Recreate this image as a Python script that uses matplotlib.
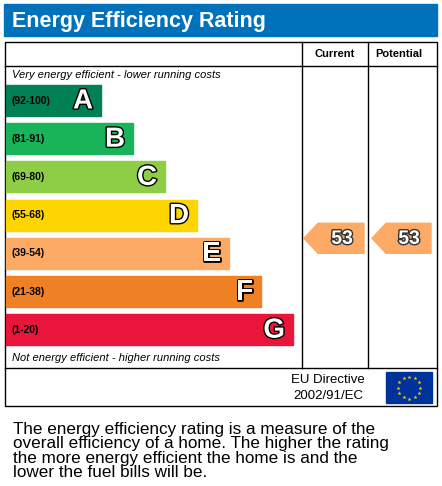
import matplotlib.pyplot as plt
import matplotlib.patheffects as pe
from matplotlib.patches import Rectangle, Polygon
import numpy as np

letters = ['A', 'B', 'C', 'D', 'E', 'F', 'G']
ranges = ['(92-100)', '(81-91)', '(69-80)', '(55-68)', '(39-54)', '(21-38)', '(1-20)']
colors = ['#008054', '#19b459', '#8dce46', '#ffd500', '#fcaa65', '#ef8023', '#e9153b']
current = 53
potential = 53
current_band = 'E'
potential_band = 'E'

plt.rcParams['font.family'] = 'Liberation Sans'
fig = plt.figure(figsize=(4.42, 4.86), dpi=100)
ax = fig.add_axes([0, 0, 1, 1])
ax.set_xlim(0, 442)
ax.set_ylim(486, 0)
ax.axis('off')

# title bar
ax.add_patch(Rectangle((4, 4), 433, 32, color='#0072bb'))
ax.text(12, 21, 'Energy Efficiency Rating', color='white', fontsize=15.5,
        fontweight='bold', va='center')

# table frame
lw = 1.0
ax.add_patch(Rectangle((5, 42), 432, 364, fill=False, lw=lw, ec='black'))
ax.plot([5, 437], [66, 66], color='black', lw=lw)
ax.plot([5, 437], [368, 368], color='black', lw=lw)
ax.plot([302, 302], [42, 368], color='black', lw=lw)
ax.plot([368, 368], [42, 368], color='black', lw=lw)
ax.text(335, 54, 'Current', fontsize=8, fontweight='bold', ha='center', va='center')
ax.text(399, 54, 'Potential', fontsize=8, fontweight='bold', ha='center', va='center')

ax.text(12, 75, 'Very energy efficient - lower running costs', fontsize=8,
        style='italic', va='center')
ax.text(12, 358, 'Not energy efficient - higher running costs', fontsize=8,
        style='italic', va='center')

outline = [pe.withStroke(linewidth=2, foreground='black')]
band_top = 85
band_step = 38.2
band_h = 31
for i, (L, r, c) in enumerate(zip(letters, ranges, colors)):
    y = band_top + i * band_step
    right = 101 + i * 32
    ax.add_patch(Rectangle((6, y), right - 6, band_h, color=c))
    ax.text(12, y + band_h / 2, r, fontsize=7.5, fontweight='bold',
            color='black', va='center')
    ax.text(right - 8, y + band_h / 2 + 1, L, fontsize=20, fontweight='bold',
            color='white', ha='right', va='center', path_effects=outline)

def arrow(x0, x1, band, value):
    i = letters.index(band)
    y = band_top + i * band_step - 15 + 0.5
    h = 30
    col = colors[i]
    ax.add_patch(Polygon([[x0, y + h / 2], [x0 + 14, y], [x1, y], [x1, y + h],
                          [x0 + 14, y + h]], closed=True, color=col))
    ax.text(x1 - 11, y + h / 2 + 1, str(value), fontsize=14, fontweight='bold',
            color='white', ha='right', va='center',
            path_effects=[pe.withStroke(linewidth=2, foreground='#333333')])

arrow(304, 364, current_band, current)
arrow(372, 431, potential_band, potential)

# EU directive
ax.text(328, 380, 'EU Directive', fontsize=9.5, ha='center', va='center')
ax.text(328, 396, '2002/91/EC', fontsize=9.5, ha='center', va='center')
ax.add_patch(Rectangle((386, 372), 46, 31, color='#003399'))
ang = np.linspace(0, 2 * np.pi, 13)[:-1]
ax.scatter(409 + 11 * np.cos(ang), 387.5 + 11 * np.sin(ang), marker='*',
           s=9, color='#ffcc00', lw=0)

ax.text(13, 451, 'The energy efficiency rating is a measure of the\n'
        'overall efficiency of a home. The higher the rating\n'
        'the more energy efficient the home is and the\n'
        'lower the fuel bills will be.', fontsize=12.3, va='center',
        linespacing=0.92)

fig.savefig('out.png', dpi=100)
